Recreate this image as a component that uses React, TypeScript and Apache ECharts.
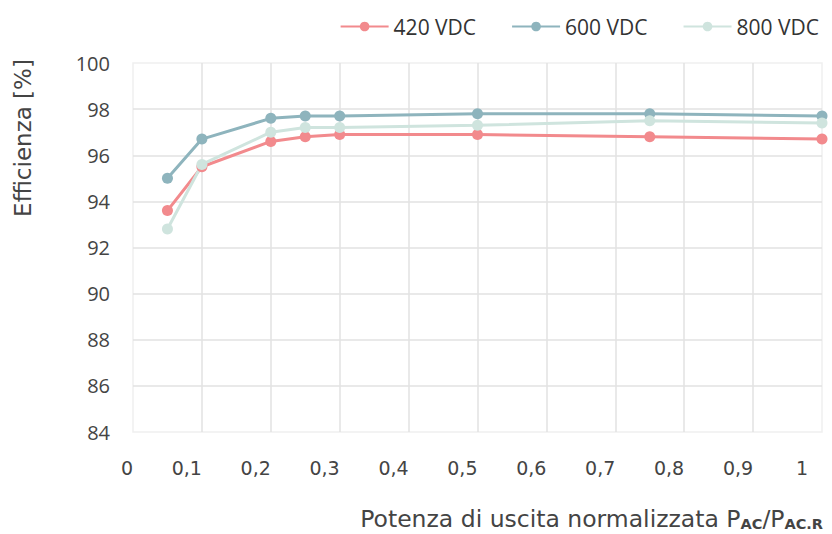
import React, { useEffect, useRef } from "react";
import * as echarts from "echarts";

const loadLevels = [0.05, 0.1, 0.2, 0.25, 0.3, 0.5, 0.75, 1.0];
const seriesNames = ["420 VDC", "600 VDC", "800 VDC"];
const eff420 = [93.6, 95.5, 96.6, 96.8, 96.9, 96.9, 96.8, 96.7];
const eff600 = [95.0, 96.7, 97.6, 97.7, 97.7, 97.8, 97.8, 97.7];
const eff800 = [92.8, 95.6, 97.0, 97.2, 97.2, 97.3, 97.5, 97.4];
const seriesColors = ["#F28A8D", "#8EB4BD", "#CFE4DE"];
const yTitle = "Efficienza [%]";
const xTitle = "Potenza di uscita normalizzata P";

export default function App() {
  const ref = useRef<HTMLDivElement>(null);
  useEffect(() => {
    if (!ref.current) return;
    const chart = echarts.init(ref.current, undefined, { renderer: "svg" });
    const values = [eff420, eff600, eff800];
    const geoFont = "DejaVu Sans";
    chart.setOption({
      animation: false,
      backgroundColor: "#ffffff",
      grid: {
        left: 133,
        right: 10,
        top: 63,
        bottom: 102,
        show: true,
        borderColor: "#f0f0f0",
        borderWidth: 1.5,
      },
      legend: {
        top: 11,
        right: 8,
        itemWidth: 48,
        itemHeight: 12,
        itemGap: 35,
        textStyle: { fontSize: 21, color: "#333", fontFamily: "Open Sans" },
        data: seriesNames,
      },
      xAxis: {
        type: "value",
        min: 0,
        max: 1,
        interval: 0.1,
        axisLine: { show: false },
        axisTick: { show: false },
        splitLine: {
          show: true,
          showMinLine: false,
          showMaxLine: false,
          lineStyle: { color: "#e2e2e2", width: 1.5 },
        },
        axisLabel: {
          margin: 26,
          align: "right",
          fontSize: 19,
          color: "#444",
          fontFamily: geoFont,
          formatter: (v: number) => {
            const r = Math.round(v * 10) / 10;
            if (r === 1) return "{r|1}";
            return String(r).replace(".", ",");
          },
          rich: {
            r: { padding: [0, 14, 0, 0], fontSize: 19, color: "#444", fontFamily: geoFont },
          },
        },
      },
      yAxis: {
        type: "value",
        min: 84,
        max: 100,
        interval: 2,
        axisLine: { show: false },
        axisTick: { show: false },
        splitLine: {
          show: true,
          showMinLine: false,
          showMaxLine: false,
          lineStyle: { color: "#e2e2e2", width: 1.5 },
        },
        axisLabel: {
          margin: 23,
          fontSize: 20,
          color: "#444",
          fontFamily: "Open Sans",
        },
      },
      graphic: [
        {
          type: "text",
          x: 23,
          y: 138,
          rotation: Math.PI / 2,
          style: {
            text: yTitle,
            fontSize: 23,
            fill: "#444",
            fontFamily: geoFont,
            align: "center",
            verticalAlign: "middle",
          },
        },
        {
          type: "text",
          x: 823,
          y: 519,
          style: {
            text: "{n|" + xTitle + "}{s|AC}{n|/P}{s|AC.R}",
            align: "right",
            verticalAlign: "middle",
            fill: "#444",
            rich: {
              n: { fontSize: 23.5, lineHeight: 26, fill: "#444", fontFamily: geoFont },
              s: {
                fontSize: 14.5,
                lineHeight: 16,
                fontWeight: "bold",
                fill: "#444",
                fontFamily: geoFont,
                padding: [10, 0, 0, 0],
              },
            },
          },
        },
      ],
      series: seriesNames.map((name, i) => ({
        name,
        type: "line",
        symbol: "circle",
        symbolSize: 11,
        color: seriesColors[i],
        lineStyle: { width: 3, color: seriesColors[i] },
        itemStyle: { color: seriesColors[i] },
        data: loadLevels.map((x, j) => [x, values[i][j]]),
      })),
    });
    return () => chart.dispose();
  }, []);
  return (
    <div
      ref={ref}
      style={{ position: "fixed", left: 0, top: 0, width: 832, height: 534 }}
    />
  );
}
